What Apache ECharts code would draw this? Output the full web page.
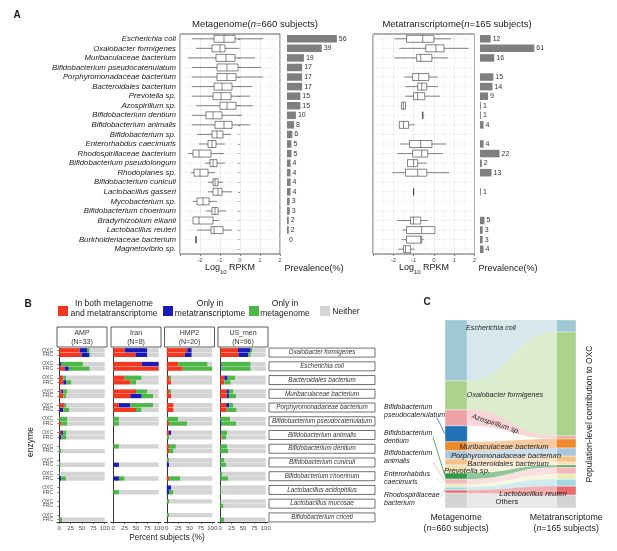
<!DOCTYPE html>
<html>
<head>
<meta charset="utf-8">
<script src="https://cdn.jsdelivr.net/npm/echarts@6/dist/echarts.min.js"></script>
<style>
  html, body { margin: 0; padding: 0; background: #fff; }
  #chart { width: 617px; height: 551px; }
</style>
</head>
<body>
<div id="chart"></div>
<script>
// ---------- data: panel A ----------
const speciesA = ['Escherichia coli', 'Oxalobacter formigenes', 'Muribaculaceae bacterium',
  'Bifidobacterium pseudocatenulatum', 'Porphyromonadaceae bacterium', 'Bacteroidales bacterium',
  'Prevotella sp.', 'Azospirillum sp.', 'Bifidobacterium dentium', 'Bifidobacterium animalis',
  'Bifidobacterium sp.', 'Enterorhabdus caecimuris', 'Rhodospirillaceae bacterium',
  'Bifidobacterium pseudolongum', 'Rhodoplanes sp.', 'Bifidobacterium cuniculi', 'Lactobacillus gasseri',
  'Mycobacterium sp.', 'Bifidobacterium choerinum', 'Bradyrhizobium elkanii', 'Lactobacillus reuteri',
  'Burkholderiaceae bacterium', 'Magnetovibrio sp.'];

// [lower whisker, Q1, median, Q3, upper whisker] in log10 RPKM
const mgBox = [
  [-2.4, -1.3, -0.8, -0.25, 1.15], [-2.2, -1.4, -1.0, -0.75, -0.1], [-2.6, -1.2, -0.7, -0.25, 0.75],
  [-2.4, -1.15, -0.65, -0.1, 1.05], [-2.4, -1.15, -0.65, -0.2, 1.15], [-2.4, -1.3, -0.9, -0.4, 0.6],
  [-2.4, -1.35, -0.95, -0.45, 0.5], [-2.2, -1.0, -0.65, -0.2, 0.65], [-2.4, -1.7, -1.35, -0.9, 0.1],
  [-2.4, -1.25, -0.8, -0.4, 0.5], [-2.15, -1.4, -1.15, -0.85, -0.45], [-2.05, -1.6, -1.4, -1.2, -0.75],
  [-2.6, -2.35, -2.05, -1.45, -0.8], [-1.75, -1.5, -1.35, -1.15, -0.75], [-2.45, -2.3, -2.0, -1.6, -1.25],
  [-1.6, -1.35, -1.25, -1.1, -0.85], [-1.6, -1.35, -1.1, -0.9, -0.4], [-2.35, -2.15, -1.85, -1.55, -1.15],
  [-1.7, -1.4, -1.25, -1.1, -0.7], [-2.35, -2.35, -2.05, -1.35, -1.05], [-2.15, -1.45, -1.3, -0.85, -0.4],
  [-2.2, -2.2, -2.2, -2.2, -2.2], null
];
const mgPrev = [56, 39, 19, 17, 17, 17, 15, 15, 10, 8, 6, 5, 5, 4, 4, 4, 4, 3, 3, 2, 2, 0, null];

const mtBox = [
  [-1.95, -1.35, -0.55, 0.0, 0.85], [-1.7, -0.4, 0.1, 0.5, 1.7], [-1.95, -0.85, -0.65, -0.1, 0.7],
  null, [-1.45, -1.05, -0.75, -0.25, 0.2], [-1.4, -0.8, -0.6, -0.35, 0.2],
  [-1.4, -1.0, -0.8, -0.45, 0.3], [-1.6, -1.6, -1.5, -1.4, -1.35], [-0.55, -0.55, -0.55, -0.55, -0.55],
  [-1.7, -1.7, -1.5, -1.25, -0.95], null, [-1.65, -1.2, -0.65, -0.1, 0.6],
  [-1.8, -1.05, -0.6, -0.3, 0.45], [-1.3, -1.3, -1.0, -0.8, -0.35], [-2.05, -1.4, -0.8, -0.35, 0.75],
  null, [-1.0, -1.0, -1.0, -1.0, -1.0], null,
  null, [-1.8, -1.15, -1.0, -0.65, -0.3], [-1.55, -1.35, -0.6, 0.05, 0.05],
  [-1.6, -1.35, -0.65, -0.6, -0.5], [-1.75, -1.5, -1.4, -1.15, -0.95]
];
const mtPrev = [12, 61, 16, null, 15, 14, 9, 1, 1, 4, null, 4, 22, 2, 13, null, 1, null, null, 5, 3, 3, 4];

// ---------- data: panel B ----------
const speciesB = ['Oxalobacter formigenes', 'Escherichia coli', 'Bacteroidales bacterium',
  'Muribaculaceae bacterium', 'Porphyromonadaceae bacterium', 'Bifidobacterium pseudocatenulatum',
  'Bifidobacterium animalis', 'Bifidobacterium dentium', 'Bifidobacterium cuniculi',
  'Bifidobacterium choerinum', 'Lactobacillus acidophilus', 'Lactobacillus mucosae', 'Bifidobacterium criceti'];
const cohorts = ['AMP', 'Iran', 'HMP2', 'US_men'];
const cohortN = [33, 8, 20, 96];
const categoriesB = ['In both metagenome\nand metatranscriptome', 'Only in\nmetatranscriptome', 'Only in\nmetagenome', 'Neither'];

// percent subjects, pairs per species: [OXC, FRC, OXC, FRC, ...]
const ampBoth    = [45, 49, 1, 12, 9, 9, 5, 9, 12, 1, 0, 4, 4, 0, null, 0, null, 0, 0, 0, null, null, null, null, null, 0];
const ampMT      = [16, 17, 3, 9, 0, 6, 4, 0, 0, 8, 0, 0, 5, 4, null, 0, null, 0, 0, 4, null, null, null, null, null, 0];
const ampMG      = [6, 3, 48, 46, 6, 12, 9, 6, 4, 13, 18, 14, 7, 12, null, 5, null, 3, 2, 11, null, null, null, null, null, 6];
const ampNeither = [33, 31, 48, 33, 85, 73, 82, 85, 84, 78, 82, 82, 84, 84, null, 95, null, 97, 98, 85, null, null, null, null, null, 94];

const iranBoth    = [25, 50, 62.5, 100, 25, 37.5, 50, 37.5, 12.5, 50, 0, 0, null, null, 0, null, null, 0, null, 0, null, 0, null, null, null, null];
const iranMT      = [50, 25, 37.5, 0, 0, 0, 0, 25, 25, 0, 0, 0, null, null, 0, null, null, 12.5, null, 12.5, null, 0, null, null, null, null];
const iranMG      = [0, 0, 0, 0, 37.5, 12.5, 25, 25, 50, 12.5, 12.5, 12.5, null, null, 12.5, null, null, 0, null, 12.5, null, 12.5, null, null, null, null];
const iranNeither = [25, 25, 0, 0, 37.5, 50, 25, 12.5, 12.5, 37.5, 87.5, 87.5, null, null, 87.5, null, null, 87.5, null, 75, null, 87.5, null, null, null, null];

const hmpBoth    = [45, 40, 25, 35, 5, 10, 5, 10, 15, 15, 0, 5, 5, 0, 5, 5, 0, 0, null, 5, 0, 0, 0, null, 0, null];
const hmpMT      = [10, 15, 0, 0, 0, 0, 0, 0, 0, 0, 0, 0, 5, 0, 0, 0, 0, 5, null, 0, 10, 5, 0, null, 0, null];
const hmpMG      = [0, 0, 65, 65, 5, 0, 5, 0, 0, 0, 25, 40, 0, 5, 15, 10, 5, 0, null, 25, 0, 10, 5, null, 5, null];
const hmpNeither = [45, 45, 10, 0, 90, 90, 90, 90, 85, 85, 75, 55, 90, 95, 80, 85, 95, 95, null, 70, 90, 85, 95, null, 95, null];

const usBoth    = [39, 40, 1, 0, 9, 9, 14, 14, 13, 14, 0, 0, 0, 3, 0, 0, 0, 0, 0, 0, 0, 0, 0, 0, null, 0];
const usMT      = [28, 22, 2, 2, 7, 0, 5, 5, 7, 0, 0, 3, 2, 0, 0, 0, 0, 0, 0, 0, 0, 0, 0, 0, null, 0];
const usMG      = [4, 5, 64, 65, 17, 14, 10, 16, 9, 22, 22, 32, 13, 10, 15, 17, 9, 13, 4, 17, 2, 1, 2, 7, null, 9];
const usNeither = [29, 33, 33, 33, 67, 77, 71, 65, 71, 64, 78, 65, 85, 87, 85, 83, 91, 87, 96, 83, 98, 99, 98, 93, null, 91];

// ---------- data: panel C ----------
const cSpecies = ['Escherichia coli', 'Oxalobacter formigenes', 'Azospirillum sp.', 'Bifidobacterium pseudocatenulatum',
  'Muribaculaceae bacterium', 'Porphyromonadaceae bacterium', 'Bacteroidales bacterium', 'Prevotella sp.',
  'Bifidobacterium dentium', 'Bifidobacterium animalis', 'Enterorhabdus caecimuris', 'Rhodospirillaceae bacterium',
  'Lactobacillus reuteri', 'Others'];
const cMetagenome        = [0.324, 0.154, 0.085, 0.085, 0.048, 0.043, 0.032, 0.043, 0.032, 0.027, 0.016, 0.016, 0.016, 0.079];
const cMetatranscriptome = [0.064, 0.553, 0.016, 0, 0.048, 0.043, 0.032, 0.016, 0.011, 0.037, 0.027, 0.037, 0.048, 0.068];

// ---------- styles ----------
const FONT = 'Liberation Sans, Arial, Helvetica, sans-serif';
const INK = '#1a1a1a';
const AXIS = '#4d4d4d';
const colB = ['#f4361e', '#1a1ab8', '#4db748', '#d4d4d4'];
const cColors = ['#9fc8d4', '#abd38b', '#f0a3a7', '#2372b5', '#f0892a', '#a8c5d9', '#f6c28a', '#f1e2b4',
  '#2e9b45', '#f5b8bb', '#e9eeb8', '#a3d9e3', '#e96b6d', '#d3d3d3'];
const cFlowAlpha = [0.42, 0.42, 0.45, 0, 0.45, 0.55, 0.45, 0.45, 0.55, 0.45, 0.45, 0.5, 0.55, 0.5];
const colL = 0.17, colR = 0.85;

// ---------- helpers ----------
const slotLabels = [];
speciesB.forEach((s, i) => {
  slotLabels.push('OXC', 'FRC');
  if (i < speciesB.length - 1) slotLabels.push('');
});
const toSlots = arr => {
  const out = [];
  for (let i = 0; i < speciesB.length; i++) {
    out.push(arr[2 * i], arr[2 * i + 1]);
    if (i < speciesB.length - 1) out.push(null);
  }
  return out;
};
const facetData = [
  [ampBoth, ampMT, ampMG, ampNeither],
  [iranBoth, iranMT, iranMG, iranNeither],
  [hmpBoth, hmpMT, hmpMG, hmpNeither],
  [usBoth, usMT, usMG, usNeither]
];

// cumulative positions for the alluvial stacks
const cumL = [], cumR = [];
let accL = 0, accR = 0;
cSpecies.forEach((s, i) => {
  cumL.push(accL); cumR.push(accR);
  accL += cMetagenome[i]; accR += cMetatranscriptome[i];
});
const cItems = cSpecies.map((s, i) => [i, cumL[i], cumL[i] + cMetagenome[i], cumR[i], cumR[i] + cMetatranscriptome[i]]);

// ---------- renderers ----------
function renderRow(params, api) {
  const cs = params.coordSys;
  const y = api.coord([0, api.value(0)])[1];
  return { type: 'line', silent: true, shape: { x1: cs.x, y1: y, x2: cs.x + cs.width, y2: y },
    style: { stroke: '#ebebeb', lineWidth: 0.6 } };
}
function renderBox(params, api) {
  const row = api.value(0);
  const pt = k => api.coord([api.value(k), row]);
  const lo = pt(1), q1 = pt(2), md = pt(3), q3 = pt(4), hi = pt(5);
  const cy = lo[1], h = 7;
  const st = { stroke: '#333', lineWidth: 0.6 };
  return { type: 'group', children: [
    { type: 'line', shape: { x1: lo[0], y1: cy, x2: q1[0], y2: cy }, style: st },
    { type: 'line', shape: { x1: q3[0], y1: cy, x2: hi[0], y2: cy }, style: st },
    { type: 'rect', shape: { x: q1[0], y: cy - h / 2, width: q3[0] - q1[0], height: h },
      style: { fill: '#fff', stroke: '#333', lineWidth: 0.6 } },
    { type: 'line', shape: { x1: md[0], y1: cy - h / 2, x2: md[0], y2: cy + h / 2 }, style: st }
  ] };
}
function renderAlluvium(params, api) {
  const i = api.value(0);
  const a0 = api.coord([0, api.value(1)]), a1 = api.coord([colL, api.value(2)]);
  const b0 = api.coord([colR, api.value(3)]), b1 = api.coord([1, api.value(4)]);
  const xa = a1[0], xb = b0[0], xm = (xa + xb) / 2;
  const path = 'M' + xa + ' ' + a0[1] + 'C' + xm + ' ' + a0[1] + ' ' + xm + ' ' + b0[1] + ' ' + xb + ' ' + b0[1] +
    'L' + xb + ' ' + b1[1] + 'C' + xm + ' ' + b1[1] + ' ' + xm + ' ' + a1[1] + ' ' + xa + ' ' + a1[1] + 'Z';
  const col = cColors[i];
  const children = [
    { type: 'path', shape: { pathData: path }, style: { fill: col, opacity: cFlowAlpha[i] } },
    { type: 'rect', shape: { x: a0[0], y: a0[1], width: xa - a0[0], height: a1[1] - a0[1] },
      style: { fill: col, stroke: '#fff', lineWidth: 0.4 } }
  ];
  if (b1[1] > b0[1]) {
    children.push({ type: 'rect', shape: { x: xb, y: b0[1], width: b1[0] - xb, height: b1[1] - b0[1] },
      style: { fill: col, stroke: '#fff', lineWidth: 0.4 } });
  }
  return { type: 'group', children };
}

// ---------- axes ----------
const logAxis = grid => ({
  type: 'value', gridIndex: grid, min: -3, max: 2, interval: 1,
  axisLine: { show: false },
  axisTick: { show: true, length: 2, lineStyle: { color: '#333', width: 0.6 } },
  axisLabel: { fontSize: 6, color: AXIS, margin: 3, fontFamily: FONT, formatter: v => (v === -3 ? '' : v) },
  splitLine: { show: true, lineStyle: { color: '#e3e3e3', width: 0.6 } },
  minorTick: { show: false, splitNumber: 2 },
  minorSplitLine: { show: true, lineStyle: { color: '#f2f2f2', width: 0.5 } }
});
const prevAxis = grid => ({ type: 'value', gridIndex: grid, min: 0, max: 100, show: false });
const speciesAxis = (grid, labels) => ({
  type: 'category', gridIndex: grid, data: speciesA, inverse: true,
  axisLine: { show: false },
  axisTick: { show: labels, alignWithLabel: true, length: 2, lineStyle: { color: '#333', width: 0.6 } },
  axisLabel: { show: labels, interval: 0, fontSize: 7.8, fontStyle: 'italic', color: INK, margin: 4, fontFamily: FONT },
  splitLine: { show: false }
});
const pctTicks = [0, 25, 50, 75, 100];
const facetX = grid => ({
  type: 'value', gridIndex: grid, min: -5, max: 105,
  axisLine: { show: true, lineStyle: { color: '#333', width: 1.2 } },
  axisTick: { show: true, customValues: pctTicks, length: 2, lineStyle: { color: '#333', width: 0.6 } },
  axisLabel: { customValues: pctTicks, fontSize: 6, color: AXIS, margin: 3, fontFamily: FONT },
  splitLine: { show: false }
});
const facetY = (grid, labels) => ({
  type: 'category', gridIndex: grid, data: slotLabels, inverse: true,
  axisLine: { show: true, lineStyle: { color: '#333', width: 1 } },
  axisTick: { show: labels, alignWithLabel: true, length: 2, interval: (i, v) => v !== '',
    lineStyle: { color: '#333', width: 0.6 } },
  axisLabel: { show: labels, interval: 0, fontSize: 5, color: AXIS, margin: 4, fontFamily: FONT },
  splitLine: { show: false }
});

const facetLeft = [57, 111, 164.5, 218];
const gridBase = { containLabel: false, outerBoundsMode: 'none' };
const grids = [
  { left: 180, top: 34, width: 100, height: 220, show: true, borderColor: '#333', borderWidth: 0.8, backgroundColor: '#fff' },
  { left: 287, top: 34, width: 89, height: 220 },
  { left: 373, top: 34, width: 101.5, height: 220, show: true, borderColor: '#333', borderWidth: 0.8, backgroundColor: '#fff' },
  { left: 480, top: 34, width: 89, height: 220 },
  ...facetLeft.map(l => ({ left: l, top: 348, width: 50, height: 174 })),
  { left: 445, top: 320, width: 131, height: 188 }
].map(g => Object.assign({}, gridBase, g));

const xAxes = [logAxis(0), prevAxis(1), logAxis(2), prevAxis(3),
  facetX(4), facetX(5), facetX(6), facetX(7),
  { type: 'value', gridIndex: 8, min: 0, max: 1,
    axisLine: { show: false },
    axisTick: { show: true, customValues: [0.085, 0.925], length: 2, lineStyle: { color: '#333', width: 0.6 } },
    axisLabel: { customValues: [0.085, 0.925], margin: 4,
      formatter: v => (v < 0.5 ? '{a|Metagenome}\n{a|(}{i|n}{a|=660 subjects)}'
                              : '{a|Metatranscriptome}\n{a|(}{i|n}{a|=165 subjects)}'),
      rich: { a: { fontSize: 8.8, color: INK, fontFamily: FONT, lineHeight: 11 },
              i: { fontSize: 8.8, color: INK, fontFamily: FONT, fontStyle: 'italic', lineHeight: 11 } } },
    splitLine: { show: false } }
];
const yAxes = [speciesAxis(0, true), speciesAxis(1, false), speciesAxis(2, false), speciesAxis(3, false),
  facetY(4, true), facetY(5, false), facetY(6, false), facetY(7, false),
  { type: 'value', gridIndex: 8, min: 0, max: 1, inverse: true, show: false }
];
yAxes[1].show = false; yAxes[3].show = false;

// ---------- series ----------
const series = [];
[0, 2].forEach((g, k) => {
  const boxes = k === 0 ? mgBox : mtBox;
  series.push({ type: 'custom', xAxisIndex: g, yAxisIndex: g, silent: true, z: 1,
    data: speciesA.map((s, i) => [i]), encode: { y: 0 }, renderItem: renderRow });
  series.push({ type: 'custom', xAxisIndex: g, yAxisIndex: g, silent: true, z: 3,
    data: speciesA.map((s, i) => (boxes[i] ? [i].concat(boxes[i]) : null)).filter(Boolean),
    encode: { x: [1, 2, 3, 4, 5], y: 0 }, renderItem: renderBox });
  series.push({ type: 'bar', xAxisIndex: g + 1, yAxisIndex: g + 1, silent: true,
    data: k === 0 ? mgPrev : mtPrev, barWidth: 7.5,
    itemStyle: { color: '#7f7f7f' },
    label: { show: true, position: 'right', distance: 2, fontSize: 7, color: '#333', fontFamily: FONT } });
});
facetData.forEach((arrs, f) => {
  arrs.forEach((arr, c) => {
    series.push({ type: 'bar', name: categoriesB[c], xAxisIndex: 4 + f, yAxisIndex: 4 + f, stack: 'facet' + f,
      silent: true, data: toSlots(arr), barWidth: 4.3, itemStyle: { color: colB[c] } });
  });
});
series.push({ type: 'custom', xAxisIndex: 8, yAxisIndex: 8, silent: true, data: cItems,
  encode: { y: [1, 2, 3, 4] }, renderItem: renderAlluvium });

// ---------- text annotations ----------
const T = (x, y, text, style, rot) => ({
  type: 'text', x, y, rotation: rot || 0, silent: true, z: 100,
  style: Object.assign({ text, fontFamily: FONT, fontSize: 8, fill: INK, align: 'center', verticalAlign: 'middle' }, style || {})
});
const richTitle = { a: { fontSize: 9.5, fill: INK, fontFamily: FONT }, i: { fontSize: 9.5, fill: INK, fontFamily: FONT, fontStyle: 'italic' } };
const richLog = { a: { fontSize: 9, fill: INK, fontFamily: FONT, lineHeight: 12, verticalAlign: 'top' },
                  s: { fontSize: 6, fill: INK, fontFamily: FONT, lineHeight: 5, verticalAlign: 'bottom' } };

const gfx = [
  T(17, 15, 'A', { fontSize: 10, fontWeight: 'bold' }),
  T(255, 24, '{a|Metagenome(}{i|n}{a|=660 subjects)}', { rich: richTitle }),
  T(457, 24, '{a|Metatranscriptome(}{i|n}{a|=165 subjects)}', { rich: richTitle }),
  T(230, 269, '{a|Log}{s|10}{a| RPKM}', { rich: richLog }),
  T(424, 269, '{a|Log}{s|10}{a| RPKM}', { rich: richLog }),
  T(314, 269, 'Prevalence(%)', { fontSize: 9 }),
  T(508, 269, 'Prevalence(%)', { fontSize: 9 }),

  T(28, 304, 'B', { fontSize: 10, fontWeight: 'bold' }),
  T(31, 442, 'enzyme', { fontSize: 8.5 }, Math.PI / 2),
  T(167, 538, 'Percent subjects (%)', { fontSize: 8.2 }),

  T(427, 302, 'C', { fontSize: 10, fontWeight: 'bold' }),
  T(590, 414, 'Population-level contribution to OXC', { fontSize: 8.5 }, Math.PI / 2)
];

// legend of panel B
const legendPos = [{ box: 58, text: 114 }, { box: 163, text: 210 }, { box: 249, text: 285 }, { box: 320, text: 346 }];
categoriesB.forEach((name, c) => {
  gfx.push({ type: 'rect', silent: true, shape: { x: legendPos[c].box, y: 306, width: 10, height: 10 }, style: { fill: colB[c] } });
  gfx.push(T(legendPos[c].text, c === 3 ? 312 : 309, name, { fontSize: 8.5, lineHeight: 10 }));
});

// facet strips
cohorts.forEach((name, f) => {
  gfx.push({ type: 'rect', silent: true, shape: { x: facetLeft[f], y: 327, width: 50, height: 20 },
    style: { fill: '#fff', stroke: '#333', lineWidth: 0.8 } });
  gfx.push(T(facetLeft[f] + 25, 337.5, name + '\n(N=' + cohortN[f] + ')', { fontSize: 7, lineHeight: 8.5, fill: '#333' }));
});

// flow labels of panel C
const it = { fontStyle: 'italic', fontSize: 7.2, fill: '#222' };
gfx.push(
  T(491, 328, 'Escherichia coli', it),
  T(505, 395, 'Oxalobacter formigenes', it),
  T(496, 424, 'Azospirillum sp.', it, -0.32),
  T(504, 447, 'Muribaculaceae bacterium', Object.assign({}, it, { fontSize: 7.6 })),
  T(506, 456, 'Porphyromonadaceae bacterium', Object.assign({}, it, { fontSize: 7.6 })),
  T(508, 464, 'Bacteroidales bacterium', Object.assign({}, it, { fontSize: 7.6 })),
  T(467, 471, 'Prevotella sp.', Object.assign({}, it, { fontSize: 7.6 })),
  T(533, 494, 'Lactobacillus reuteri', Object.assign({}, it, { fontSize: 7.6 })),
  T(507, 502, 'Others', { fontSize: 7.6, fill: '#222' })
);

const chart = echarts.init(document.getElementById('chart'));
chart.setOption({
  animation: false,
  backgroundColor: '#fff',
  grid: grids,
  xAxis: xAxes,
  yAxis: yAxes,
  series: series
});

// species boxes on the right of panel B, placed on the pair centres
speciesB.forEach((s, i) => {
  const y1 = chart.convertToPixel({ yAxisIndex: 7 }, 3 * i);
  const y2 = chart.convertToPixel({ yAxisIndex: 7 }, 3 * i + 1);
  const cy = (y1 + y2) / 2;
  gfx.push({ type: 'rect', silent: true, shape: { x: 269, y: cy - 4.5, width: 106, height: 9 },
    style: { fill: '#fff', stroke: '#333', lineWidth: 0.7 } });
  gfx.push(T(322, cy, s, { fontStyle: 'italic', fontSize: 6.3, fill: '#333' }));
});

// left labels of panel C with leader lines to their strata
const leaders = [
  { sp: 3, text: 'Bifidobacterium\npseudocatenulatum', y: 411, from: [437, 418] },
  { sp: 8, text: 'Bifidobacterium\ndentium', y: 437, from: [433, 437] },
  { sp: 9, text: 'Bifidobacterium\nanimalis', y: 457, from: [433, 462] },
  { sp: 10, text: 'Enterorhabdus\ncaecimuris', y: 478, from: [436, 479] },
  { sp: 11, text: 'Rhodospirillaceae\nbacterium', y: 499, from: [441, 497] }
];
leaders.forEach(l => {
  const mid = (cumL[l.sp] + cumL[l.sp] + cMetagenome[l.sp]) / 2;
  const p = chart.convertToPixel({ gridIndex: 8 }, [0, mid]);
  gfx.push(T(384, l.y, l.text, { fontStyle: 'italic', fontSize: 7, lineHeight: 8, align: 'left', fill: '#222' }));
  gfx.push({ type: 'line', silent: true, z: 100,
    shape: { x1: l.from[0], y1: l.from[1], x2: p[0], y2: p[1] },
    style: { stroke: cColors[l.sp], lineWidth: 0.8 } });
});

chart.setOption({ graphic: { elements: gfx } });
</script>
</body>
</html>
